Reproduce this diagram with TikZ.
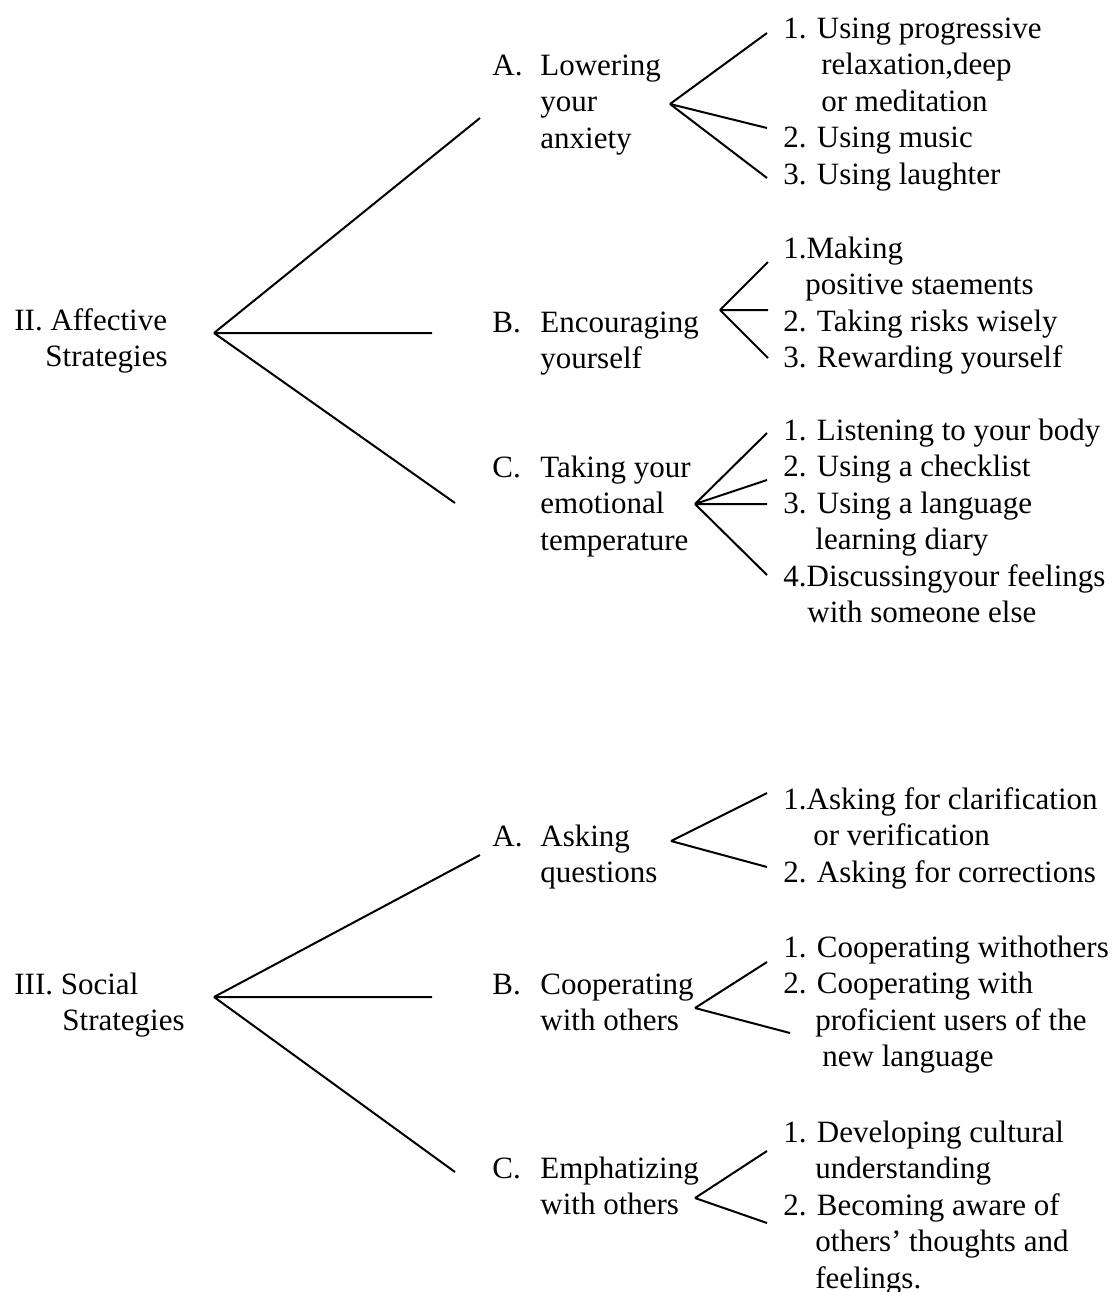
\documentclass[tikz,border=0pt]{standalone}
\usepackage{fontspec}
\setmainfont{Liberation Serif}
\tikzset{
  lbl/.style={anchor=base west, inner sep=0pt, align=left, font=\fontsize{15.5}{18.25}\selectfont},
  br/.style={line width=1pt},
}
\newcommand{\lettr}[1]{\makebox[24pt][l]{#1}}
\newcommand{\indt}[1]{\hspace*{#1pt}}
\begin{document}
\begin{tikzpicture}[x=0.5pt,y=0.5pt,yscale=-1]
\useasboundingbox (0,0) rectangle (1115,1292);

% Text Node (base = last line)
\node[lbl] (aff) at (14,366.5) {II. Affective\\\indt{15.5}Strategies};
% Text Node
\node[lbl] (lowA) at (492,148) {\lettr{A.}Lowering\\\indt{24}your\\\indt{24}anxiety};
% Text Node
\node[lbl] (lowItems) at (783,184) {1. Using progressive\\\indt{19}relaxation,deep\\\indt{19}or meditation\\2. Using music\\3. Using laughter};
% Text Node
\node[lbl] (encB) at (492,368.5) {\lettr{B.}Encouraging\\\indt{24}yourself};
% Text Node
\node[lbl] (encItems) at (783,367.5) {1.Making\\\indt{11}positive staements\\2. Taking risks wisely\\3. Rewarding yourself};
% Text Node
\node[lbl] (tempC) at (492,550) {\lettr{C.}Taking your\\\indt{24}emotional\\\indt{24}temperature};
% Text Node
\node[lbl] (tempItems) at (783,622.5) {1. Listening to your body\\2. Using a checklist\\3. Using a language\\\indt{16}learning diary\\4.Discussingyour feelings\\\indt{12}with someone else};

% Text Node
\node[lbl] (soc) at (14,1030.5) {III. Social\\\indt{24}Strategies};
% Text Node
\node[lbl] (askA) at (492,882.5) {\lettr{A.}Asking\\\indt{24}questions};
% Text Node
\node[lbl] (askItems) at (783,882) {1.Asking for clarification\\\indt{15}or verification\\2. Asking for corrections};
% Text Node
\node[lbl] (coopB) at (492,1030.5) {\lettr{B.}Cooperating\\\indt{24}with others};
% Text Node
\node[lbl] (coopItems) at (783,1066.5) {1. Cooperating withothers\\2. Cooperating with\\\indt{16}proficient users of the\\\indt{19.5}new language};
% Text Node
\node[lbl] (empC) at (492,1214.5) {\lettr{C.}Emphatizing\\\indt{24}with others};
% Text Node
\node[lbl] (empItems) at (783,1288) {1. Developing cultural\\\indt{16}understanding\\2. Becoming aware of\\\indt{16}others’ thoughts and\\\indt{16}feelings.};

% branch points and line ends
\coordinate (affV) at (214,333);
\coordinate (affA) at (480,118);
\coordinate (affB) at (432,333);
\coordinate (affC) at (455,503);
\coordinate (lowV) at (670,104);
\coordinate (low1) at (767,33);
\coordinate (low2) at (767,128);
\coordinate (low3) at (767,178);
\coordinate (encV) at (720,310);
\coordinate (enc1) at (768,262);
\coordinate (enc2) at (768,310);
\coordinate (enc3) at (768,358);
\coordinate (tempV) at (695,504);
\coordinate (temp1) at (767,433);
\coordinate (temp2) at (767,480);
\coordinate (temp3) at (767,504);
\coordinate (temp4) at (767,575);

\coordinate (socV) at (214,997);
\coordinate (socA) at (480,855);
\coordinate (socB) at (432,997);
\coordinate (socC) at (455,1172);
\coordinate (askV) at (671,841);
\coordinate (ask1) at (767,793);
\coordinate (ask2) at (767,867);
\coordinate (coopV) at (695,1008);
\coordinate (coop1) at (767,962);
\coordinate (coop2) at (790,1033);
\coordinate (empV) at (695,1198);
\coordinate (emp1) at (767,1151);
\coordinate (emp2) at (767,1223);

%Straight Lines
\draw[br] (affV) -- (affA) (affV) -- (affB) (affV) -- (affC);
%Straight Lines
\draw[br] (lowV) -- (low1) (lowV) -- (low2) (lowV) -- (low3);
%Straight Lines
\draw[br] (encV) -- (enc1) (encV) -- (enc2) (encV) -- (enc3);
%Straight Lines
\draw[br] (tempV) -- (temp1) (tempV) -- (temp2) (tempV) -- (temp3) (tempV) -- (temp4);

%Straight Lines
\draw[br] (socV) -- (socA) (socV) -- (socB) (socV) -- (socC);
%Straight Lines
\draw[br] (askV) -- (ask1) (askV) -- (ask2);
%Straight Lines
\draw[br] (coopV) -- (coop1) (coopV) -- (coop2);
%Straight Lines
\draw[br] (empV) -- (emp1) (empV) -- (emp2);

\end{tikzpicture}
\end{document}
